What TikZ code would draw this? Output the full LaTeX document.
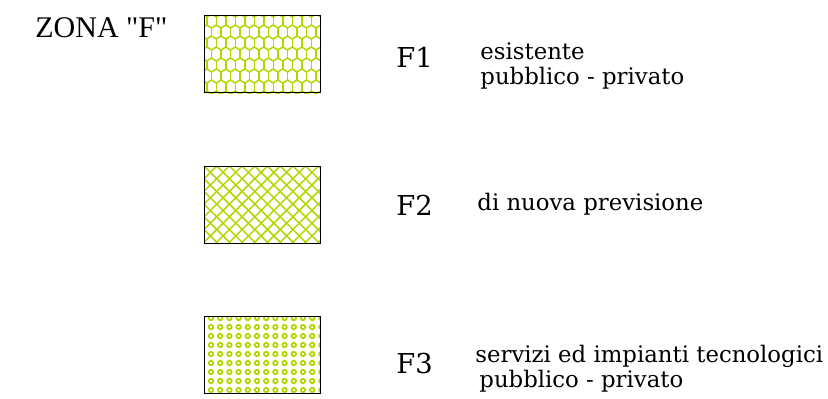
\documentclass[tikz,border=0pt]{standalone}
\usepackage{fontspec}
\setmainfont{DejaVu Serif}
\newfontfamily\zonafont{Liberation Serif}
\usetikzlibrary{backgrounds, positioning}
\definecolor{zonagreen}{HTML}{B0D800}

\tikzset{
  legendbox/.style={draw=black, line width=0.5pt, minimum width=58pt,
                    minimum height=38.5pt, inner sep=0pt, anchor=north west},
  zonecode/.style={font=\fontsize{13.7}{16}\selectfont, anchor=base west, inner sep=0pt},
  zonetext/.style={font=\fontsize{11.4}{13}\selectfont, anchor=base west, inner sep=0pt},
  hatch/.style={draw=zonagreen, line width=0.75pt},
}

\begin{document}
\begin{tikzpicture}[x=0.5pt, y=-0.5pt]
\useasboundingbox (0,0) rectangle (828,398);

% titolo
\node[anchor=base west, inner sep=0pt, font=\zonafont\fontsize{15}{18}\selectfont]
  (zona) at (35,37) {ZONA "F"};

% riquadri
\node[legendbox] (box1) at (204,15) {};
\node[legendbox] (box2) at (204,166) {};
\node[legendbox] (box3) at (204,316) {};

% retini
\begin{scope}[on background layer]
  \begin{scope}
    \clip (box1.north west) rectangle (box1.south east);
    \foreach \r in {0,...,8}{
      \pgfmathsetmacro\yy{6+11*\r}
      \pgfmathsetmacro\off{mod(\r,2)*4.75}
      \foreach \j in {0,...,13}{
        \pgfmathsetmacro\xx{202+9.5*\j+\off}
        \draw[hatch] (\xx,\yy) -- (\xx,\yy+8);
        \draw[hatch] (\xx-4.75,\yy+11) -- (\xx,\yy+8) -- (\xx+4.75,\yy+11);
      }
    }
  \end{scope}
  \begin{scope}
    \clip (box2.north west) rectangle (box2.south east);
    \foreach \k in {-7,...,16}{
      \draw[hatch] (204+12.7*\k,166) -- ++(78,78);
      \draw[hatch] (204+12.7*\k,166) -- ++(-78,78);
    }
  \end{scope}
  \begin{scope}
    \clip (box3.north west) rectangle (box3.south east);
    \foreach \i in {0,...,12}
      \foreach \k in {0,...,8}
        \draw[hatch, line width=0.9pt] (211+9.2*\i,318+9*\k) circle (1.1pt);
  \end{scope}
\end{scope}

% etichette
\node[zonecode] (f1) at (396,67) {F1};
\node[zonetext] (f1a) at (480,59) {esistente};
\node[zonetext] (f1b) at (480,84) {pubblico - privato};

\node[zonecode] (f2) at (396,215) {F2};
\node[zonetext] (f2a) at (477,210) {di nuova previsione};

\node[zonecode] (f3) at (396,373) {F3};
\node[zonetext] (f3a) at (475,362) {servizi ed impianti tecnologici};
\node[zonetext] (f3b) at (479,387) {pubblico - privato};

\end{tikzpicture}
\end{document}
